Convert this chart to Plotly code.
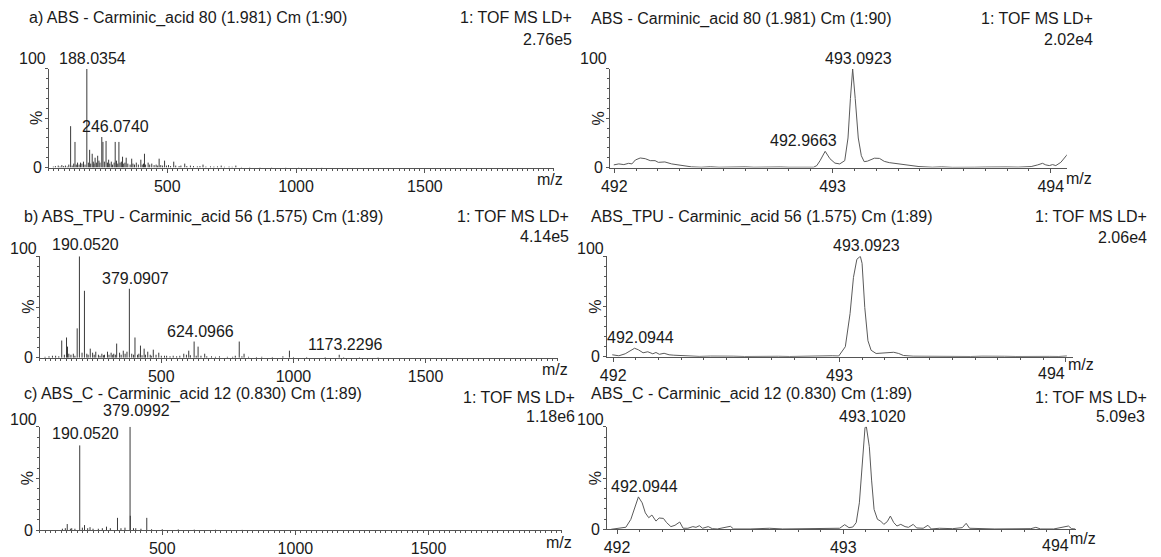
import plotly.graph_objects as go

# ---------------------------------------------------------------- data
# full-range LDI spectra (centroid sticks): m/z and relative intensity (%)
a_mz = [125.1, 142.1, 163.4, 188.0354, 198.9, 208.8, 220.1, 230.1, 246.0740, 250.5,
        262.6, 272.7, 298.1, 312.5, 326.6, 340.8, 362.1, 397.6, 411.7, 425.9,
        468.6, 489.7, 525.2, 567.9, 638.9, 709.5, 766.3]
a_int = [42, 26, 5, 100, 18, 14, 10, 12, 31, 26,
         27, 8, 26, 26, 11, 10, 9, 8, 14, 5,
         9, 7, 6, 4, 3, 2, 2]
a_minor_mz = [58, 66, 77, 84, 91, 98, 105, 112, 118, 131, 137, 147, 152, 158, 169, 175, 181,
              194, 203, 213, 216, 225, 235, 239, 256, 268, 277, 283, 288, 294, 303, 308, 317,
              322, 331, 336, 347, 356, 367, 373, 380, 388, 403, 408, 416, 432, 440, 449, 457,
              463, 475, 482, 497, 505, 513, 533, 546, 553, 576, 590, 602, 617, 627, 650, 668,
              681, 695, 722, 740, 752, 788, 820, 860, 905, 960, 1010, 1100]
a_minor_int = [1, 1.5, 2, 1, 2.5, 1.5, 2, 1, 3, 2, 4, 3, 5, 3, 4, 6, 3,
               5, 4, 6, 4, 5, 7, 5, 6, 5, 4, 6, 3, 5, 7, 4, 5,
               6, 4, 5, 4, 3, 4, 3, 5, 3, 3, 4, 3, 3, 4, 2.5, 3,
               2, 2.5, 2, 2, 2.5, 1.5, 2, 1.5, 2, 1.5, 2, 1.5, 1.2, 1.5, 1, 1.2,
               1, 1.2, 0.8, 1, 0.8, 0.6, 0.6, 0.5, 0.5, 0.4, 0.4, 0.3]

b_mz = [123.1, 141.3, 145.0, 181.6, 190.0520, 209.1, 231.1, 252.0, 296.3, 331.0,
        356.0, 379.0907, 400.3, 421.1, 435.0, 448.7, 469.6, 490.4, 603.8, 624.0966,
        639.1, 664.1, 794.9, 813.1, 984.8, 1173.2296]
b_int = [17, 20, 11, 29, 100, 66, 9, 6, 6, 14,
         7, 68, 20, 12, 9, 6, 8, 5, 7, 16,
         11, 4, 16, 4, 7, 3]
b_minor_mz = [60, 75, 88, 100, 112, 133, 150, 158, 167, 173, 200, 218, 223, 240, 246, 262,
              268, 275, 281, 285, 302, 310, 316, 320, 326, 342, 348, 363, 370, 388, 395, 410,
              415, 427, 440, 458, 462, 480, 500, 512, 520, 533, 545, 558, 570, 585, 595, 610,
              632, 650, 672, 690, 705, 720, 750, 770, 780, 805, 830, 860, 880, 920, 960, 1000,
              1050, 1120, 1190, 1250, 1320]
b_minor_int = [1, 1.5, 2, 2, 1.5, 3, 4, 3, 4, 2, 5, 4, 3, 5, 3, 3,
               2, 4, 2.5, 3, 3, 5, 3, 4, 3, 5, 3, 4, 6, 4, 3, 3,
               4, 2.5, 3, 3, 2, 3, 2, 2, 2, 1.5, 2, 1.5, 2, 4, 3, 2.5,
               2, 2, 1.5, 1.5, 1, 1.5, 1, 1, 2, 1.5, 1, 0.8, 1, 0.8, 1.5, 0.8,
               0.8, 0.7, 0.6, 0.5, 0.5]

c_mz = [143.2, 190.0520, 208.1, 228.8, 290.6, 331.9, 379.0992, 380.1, 400.5, 441.9]
c_int = [6, 82, 5, 3, 3.5, 12, 100, 14, 2, 12]
c_minor_mz = [125, 136, 155, 160, 172, 200, 220, 240, 260, 275, 305, 345, 360, 392, 420,
              460, 500, 560, 620, 700, 800]
c_minor_int = [1.5, 2, 1.5, 2, 1.5, 2.5, 2, 1.5, 1.5, 2, 2, 2, 2.5, 2, 1.5,
               1, 1, 0.8, 0.6, 0.5, 0.4]

# zoomed profile spectra around m/z 493
pa_mz = [491.998, 492.021, 492.044, 492.066, 492.081, 492.097, 492.119, 492.142, 492.165,
         492.187, 492.202, 492.232, 492.263, 492.308, 492.354, 492.398, 492.44, 492.48,
         492.52, 492.56, 492.60, 492.64, 492.68, 492.72, 492.76, 492.80, 492.84, 492.88,
         492.913, 492.928, 492.943, 492.9663, 492.988, 493.011, 493.033, 493.056, 493.071,
         493.082, 493.0923, 493.104, 493.118, 493.132, 493.145, 493.16, 493.175, 493.192,
         493.215, 493.237, 493.260, 493.306, 493.351, 493.396, 493.457, 493.50, 493.55,
         493.60, 493.65, 493.70, 493.75, 493.80, 493.85, 493.910, 493.940, 493.962, 493.977,
         493.993, 494.008, 494.023, 494.046, 494.077]
pa_int = [2.7, 3.7, 3.0, 4.3, 3.7, 7.7, 9.7, 9.0, 7.0,
          7.0, 5.3, 5.7, 3.7, 2.0, 0.7, 0.3, 0.8, 0.3,
          0.6, 0.2, 0.7, 0.3, 0.5, 0.2, 0.6, 0.3, 0.5, 0.4,
          0.3, 2.0, 7.0, 16.5, 9.0, 4.5, 3.7, 7.0, 30,
          70, 100, 70, 30, 12, 6, 6.5, 8, 9.5,
          9.3, 6.3, 5.0, 3.7, 2.0, 1.0, 0.3, 0.7, 0.2,
          0.6, 0.3, 0.5, 0.2, 0.6, 0.4, 1.0, 2.7, 4.3, 2.7,
          2.0, 3.0, 2.0, 5.3, 13.7]

pb_mz = [491.996, 492.025, 492.053, 492.075, 492.0944, 492.111, 492.132, 492.153, 492.175,
         492.189, 492.204, 492.225, 492.247, 492.268, 492.325, 492.38, 492.43, 492.48,
         492.53, 492.58, 492.63, 492.68, 492.73, 492.78, 492.83, 492.88, 492.93, 492.968,
         492.997, 493.026, 493.047, 493.062, 493.077, 493.0923, 493.100, 493.112, 493.126,
         493.140, 493.162, 493.183, 493.212, 493.240, 493.262, 493.283, 493.326, 493.38,
         493.43, 493.48, 493.53, 493.58, 493.63, 493.68, 493.73, 493.78, 493.83, 493.88,
         493.93, 493.97, 494.005]
pb_int = [2.0, 1.0, 3.0, 6.0, 8.5, 7.0, 4.0, 5.0, 3.0,
          4.3, 2.5, 3.5, 2.0, 1.6, 0.8, 0.4, 0.7, 0.3,
          0.6, 0.3, 0.6, 0.3, 0.5, 0.3, 0.6, 0.4, 0.5, 1.0,
          0.8, 10, 43, 79, 97, 100, 93, 49, 16,
          6.5, 3.3, 3.6, 4.6, 4.5, 3.3, 1.3, 0.6, 0.4,
          0.7, 0.3, 0.5, 0.3, 0.6, 0.2, 0.5, 0.3, 0.5, 0.2,
          0.4, 0.3, 0.8]

pc_mz = [491.974, 492.010, 492.039, 492.061, 492.079, 492.0944, 492.111, 492.125, 492.140,
         492.154, 492.172, 492.186, 492.205, 492.219, 492.238, 492.256, 492.277, 492.292,
         492.313, 492.335, 492.349, 492.364, 492.378, 492.403, 492.421, 492.443, 492.501,
         492.515, 492.588, 492.674, 492.732, 492.876, 492.948, 492.984, 493.006, 493.025,
         493.042, 493.057, 493.071, 493.083, 493.096, 493.1020, 493.115, 493.125, 493.136,
         493.151, 493.165, 493.179, 493.194, 493.208, 493.223, 493.237, 493.254, 493.273,
         493.288, 493.309, 493.324, 493.353, 493.374, 493.389, 493.425, 493.483, 493.526,
         493.543, 493.558, 493.670, 493.829, 493.851, 493.872, 493.930, 493.944, 493.995,
         494.009, 494.025]
pc_int = [0, 1.0, 2.0, 9.7, 22.6, 31.6, 25.8, 16.0, 11.3,
          13.9, 8.0, 11.0, 10.6, 6.5, 2.6, 3.9, 7.1, 1.0,
          1.0, 2.6, 1.9, 3.5, 1.0, 2.6, 0.6, 0.3, 2.9,
          0.3, 0.3, 1.0, 0.3, 0.3, 0.3, 1.0, 4.5, 1.6,
          2.2, 6.5, 25.8, 64.5, 99.4, 100, 80.6, 48.0, 19.4,
          9.7, 8.0, 4.8, 7.4, 12.9, 6.5, 3.2, 4.8, 2.6,
          1.9, 4.8, 1.3, 1.0, 3.9, 0.3, 1.0, 0.6, 1.6,
          5.8, 1.0, 0.3, 0.6, 1.9, 0.3, 0.3, 1.0, 3.2,
          0.6, 0.3]

left_ticks = [500, 1000, 1500]
right_ticks = [492, 493, 494]

# ---------------------------------------------------------------- style
W, H = 1161, 557
FONT = "Liberation Sans, Arial, sans-serif"
FS = 16
TXT = "#1a1a1a"
AX = "#555555"
STICK = "#3a3a3a"
PROFILE = "#5a5a5a"


def px(x, y):
    """pixel position -> paper coordinates"""
    return x / W, 1 - y / H


def sticks(mz, inten):
    xs, ys = [], []
    for m, v in zip(mz, inten):
        xs += [m, m, None]
        ys += [0, v, None]
    return xs, ys


# panel definitions: geometry in pixels (x0, x1, ytop, ybase)
# last_right: the final tick label is drawn flush left of its tick
panels = [
    dict(kind="stick", data=[(a_mz, a_int), (a_minor_mz, a_minor_int)], rng=[40, 2000],
         geo=(40, 549, 70, 170), ticks=left_ticks, minor=20, last_right=False,
         labels=[188.0354, 246.0740], y100=0,
         title=("a) ABS - Carminic_acid 80 (1.981) Cm (1:90)", 18, 18),
         head=("1: TOF MS LD+", 569, 18), scale=("2.76e5", 569, 40), mz=(-19, -12)),
    dict(kind="profile", data=[(pa_mz, pa_int)], rng=[491.982, 494.073],
         geo=(606, 1066, 70, 170), ticks=right_ticks, minor=0.1, last_right=False,
         labels=[493.0923, 492.9663], y100=0,
         title=("ABS - Carminic_acid 80 (1.981) Cm (1:90)", 585, 19),
         head=("1: TOF MS LD+", 1094, 19), scale=("2.02e4", 1094, 40), mz=(-3, -11)),
    dict(kind="stick", data=[(b_mz, b_int), (b_minor_mz, b_minor_int)], rng=[40, 2000],
         geo=(31, 553, 260, 363), ticks=left_ticks, minor=20, last_right=False,
         labels=[190.0520, 379.0907, 624.0966, 1173.2296], y100=-3,
         title=("b) ABS_TPU - Carminic_acid 56 (1.575) Cm (1:89)", 13, 220),
         head=("1: TOF MS LD+", 566, 220), scale=("4.14e5", 566, 240), mz=(-18, -12)),
    dict(kind="profile", data=[(pb_mz, pb_int)], rng=[491.974, 494.031],
         geo=(603, 1072, 260, 362), ticks=right_ticks, minor=0.1, last_right=True,
         labels=[493.0923, 492.0944], y100=-3,
         title=("ABS_TPU - Carminic_acid 56 (1.575) Cm (1:89)", 585, 220),
         head=("1: TOF MS LD+", 1149, 220), scale=("2.06e4", 1149, 241), mz=(-7, -8)),
    dict(kind="stick", data=[(c_mz, c_int), (c_minor_mz, c_minor_int)], rng=[40, 2000],
         geo=(31, 557, 433, 538), ticks=left_ticks, minor=20, last_right=False,
         labels=[190.0520, 379.0992], y100=-3,
         title=("c) ABS_C - Carminic_acid 12 (0.830) Cm (1:89)", 13, 400),
         head=("1: TOF MS LD+", 572, 403), scale=("1.18e6", 572, 423), mz=(-18, -12)),
    dict(kind="profile", data=[(pc_mz, pc_int)], rng=[491.957, 494.027],
         geo=(603, 1075, 433, 537), ticks=right_ticks, minor=0.1, last_right=True,
         labels=[493.1020, 492.0944], y100=-3,
         title=("ABS_C - Carminic_acid 12 (0.830) Cm (1:89)", 585, 400),
         head=("1: TOF MS LD+", 1149, 403), scale=("5.09e3", 1147, 423), mz=(-8, -9)),
]

# label nudges (pixels) where the peak label is set off its peak
label_dx = {246.0740: 14, 492.9663: -22}
label_dy = {379.0992: 6, 190.0520: 1}

fig = go.Figure()
layout = dict(width=W, height=H, margin=dict(l=0, r=0, t=0, b=0),
              paper_bgcolor="white", plot_bgcolor="white", showlegend=False,
              font=dict(family=FONT, size=FS, color=TXT))
annotations = []

for i, p in enumerate(panels, start=1):
    sx = "" if i == 1 else str(i)
    xa, ya = "x" + sx, "y" + sx
    x0, x1, yt, yb = p["geo"]
    dom_x = [x0 / W, x1 / W]
    dom_y = [1 - yb / H, 1 - yt / H]

    for mz, inten in p["data"]:
        if p["kind"] == "stick":
            xs, ys = sticks(mz, inten)
            line = dict(color=STICK, width=1)
        else:
            xs, ys = mz, inten
            line = dict(color=PROFILE, width=1)
        fig.add_trace(go.Scatter(x=xs, y=ys, mode="lines", line=line,
                                 xaxis=xa, yaxis=ya, hoverinfo="skip"))

    ticktext = [str(t) for t in p["ticks"]]
    if p["last_right"]:
        ticktext[-1] = ""
    layout["xaxis" + sx] = dict(
        domain=dom_x, range=p["rng"], anchor=ya, showline=True, linecolor=AX, linewidth=1,
        ticks="outside", ticklen=4, tickcolor=AX, tickwidth=1,
        tickmode="array", tickvals=p["ticks"], ticktext=ticktext,
        tickfont=dict(family=FONT, size=FS, color=TXT),
        minor=dict(dtick=p["minor"], tick0=p["ticks"][0], ticks="outside", ticklen=2,
                   tickcolor=AX, showgrid=False),
        showgrid=False, zeroline=False, fixedrange=True)
    layout["yaxis" + sx] = dict(
        domain=dom_y, range=[0, 100], anchor=xa, showline=True, linecolor=AX, linewidth=1,
        ticks="outside", ticklen=3, tickcolor=AX, tickvals=[0, 50, 100],
        showticklabels=False,
        minor=dict(dtick=10, ticks="outside", ticklen=2, tickcolor=AX, showgrid=False),
        showgrid=False, zeroline=False, fixedrange=True)

    dx, dy = xa + " domain", ya + " domain"
    if p["last_right"]:
        annotations.append(dict(text=str(p["ticks"][-1]), xref=xa, yref=dy,
                                x=p["ticks"][-1], y=0, xanchor="right", yanchor="top",
                                xshift=1, yshift=-6, showarrow=False))
    # intensity axis captions
    annotations.append(dict(text="100", xref=dx, yref=dy, x=0, y=1, xanchor="right",
                            yanchor="bottom", xshift=-1, yshift=p["y100"], showarrow=False))
    annotations.append(dict(text="0", xref=dx, yref=dy, x=0, y=0, xanchor="right",
                            yanchor="middle", xshift=-5, showarrow=False))
    annotations.append(dict(text="%", xref=dx, yref=dy, x=0, y=0.5, xanchor="center",
                            yanchor="middle", xshift=-12, textangle=-90, showarrow=False))
    annotations.append(dict(text="m/z", xref=dx, yref=dy, x=1, y=0, xanchor="left",
                            yanchor="middle", xshift=p["mz"][0], yshift=p["mz"][1],
                            showarrow=False))

    # peak labels, placed from the labelled values themselves
    for m in p["labels"]:
        mzs, ints = p["data"][0]
        v = ints[mzs.index(m)]
        annotations.append(dict(text=f"{m:.4f}", xref=xa, yref=ya, x=m, y=v,
                                xanchor="center", yanchor="bottom",
                                xshift=label_dx.get(m, 6),
                                yshift=label_dy.get(m, 0) if p["kind"] == "stick" else 0,
                                showarrow=False))

    # header texts
    t, tx, ty = p["title"]
    ax_, ay_ = px(tx, ty)
    annotations.append(dict(text=t, xref="paper", yref="paper", x=ax_, y=ay_,
                            xanchor="left", yanchor="middle", showarrow=False))
    for t, tx, ty in (p["head"], p["scale"]):
        ax_, ay_ = px(tx, ty)
        annotations.append(dict(text=t, xref="paper", yref="paper", x=ax_, y=ay_,
                                xanchor="right", yanchor="middle", showarrow=False))

layout["annotations"] = annotations
fig.update_layout(**layout)
fig.write_html("out.html")
